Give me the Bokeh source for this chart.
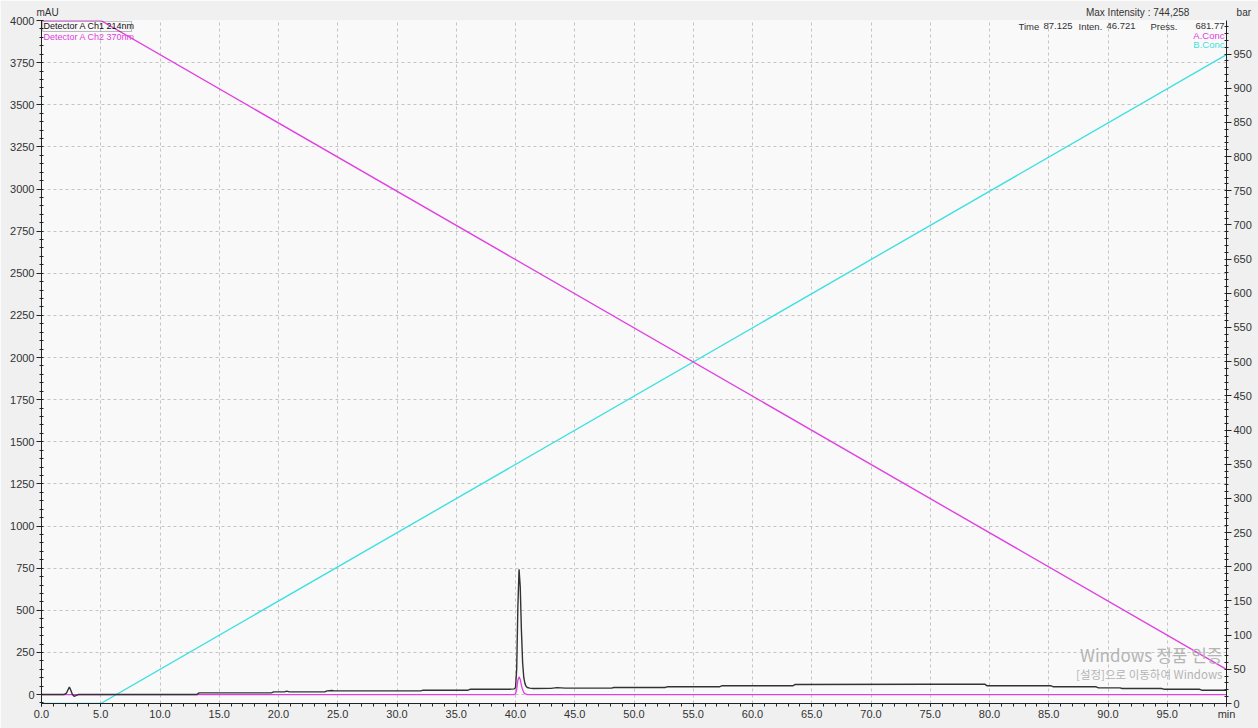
from bokeh.plotting import figure
from bokeh.models import (Range1d, LinearAxis, Label, SingleIntervalTicker, FixedTicker,
                          NumeralTickFormatter, BoxAnnotation)
from bokeh.embed import file_html
from bokeh.resources import INLINE

# --- Detector A Ch1 214nm (mAU) ---
ch1_time = [0.0, 1.9, 2.1, 2.25, 2.35, 2.45, 2.6, 2.75, 2.9, 3.1,
            13.1, 13.3, 19.4, 19.6, 20.5, 20.7, 20.9, 23.9, 24.1, 24.5,
            24.7, 32.0, 32.2, 36.0, 36.2, 39.6, 39.9, 40.0, 40.1, 40.2,
            40.3, 40.4, 40.5, 40.6, 40.7, 40.8, 40.9, 41.0, 41.2, 41.5,
            43.0, 43.5, 44.2, 48.1, 48.3, 52.6, 52.8, 57.2, 57.4, 63.4,
            63.6, 75.0, 79.6, 79.8, 85.2, 85.4, 89.0, 89.2, 91.0, 91.2,
            94.5, 94.7, 97.7, 97.9, 100.0]
ch1_mau = [0, 0, 8, 30, 44, 30, 2, -10, -6, 0,
           0, 10, 10, 16, 16, 20, 16, 16, 22, 24,
           22, 22, 26, 26, 32, 32, 34, 40, 150, 520,
           744, 640, 380, 190, 100, 65, 48, 42, 38, 36,
           37, 41, 38, 38, 42, 42, 46, 46, 52, 52,
           60, 61, 62, 52, 52, 46, 46, 40, 40, 36,
           36, 32, 32, 26, 26]

# --- Detector A Ch2 370nm (mAU) ---
ch2_time = [0.0, 39.9, 40.0, 40.1, 40.2, 40.3, 40.4, 40.5, 40.6, 40.7, 40.8, 41.0, 100.0]
ch2_mau = [0, 0, 5, 30, 85, 105, 90, 55, 28, 12, 5, 0, 0]

# --- pump gradient (%) ---
conc_time = [0.0, 5.0, 100.0]
conc_a = [100.0, 100.0, 5.0]
conc_b = [0.0, 0.0, 95.0]

MAGENTA = "#e040e0"
CYAN = "#40e0e0"
TXT = "#333333"
FONT = "Liberation Sans"

p = figure(width=1258, height=728, x_range=Range1d(0, 100), y_range=Range1d(-53, 4000),
           output_backend="svg", toolbar_location=None,
           min_border_left=41, min_border_right=32, min_border_top=20, min_border_bottom=25,
           background_fill_color="#f9f9f9", border_fill_color="#f0f0f0")
p.outline_line_color = None
p.extra_y_ranges = {"bar": Range1d(0, 999), "conc": Range1d(0, 100)}
# header strip above the frame, positioned in canvas pixels
p.extra_x_ranges = {"hdr": Range1d(41, 1226)}

# axes
p.xaxis.ticker = SingleIntervalTicker(interval=5, num_minor_ticks=5)
p.xaxis.formatter = NumeralTickFormatter(format="0.0")
p.xaxis.major_label_overrides = {100: "min"}
p.yaxis.ticker = SingleIntervalTicker(interval=250, num_minor_ticks=5)

right = LinearAxis(y_range_name="bar", ticker=SingleIntervalTicker(interval=50, num_minor_ticks=5))
p.add_layout(right, "right")

for ax in [p.xaxis[0], p.yaxis[0], right]:
    ax.axis_line_color = "#222222"
    ax.major_tick_line_color = "#222222"
    ax.minor_tick_line_color = "#222222"
    ax.major_tick_out = 5
    ax.major_tick_in = 0
    ax.minor_tick_out = 2
    ax.minor_tick_in = 2
    ax.major_label_text_font = FONT
    ax.major_label_text_font_size = "11px"
    ax.major_label_text_color = TXT
    ax.major_label_standoff = 2

p.xaxis.major_tick_out = 3
p.xaxis.minor_tick_out = 3
p.xaxis.minor_tick_in = 0
p.xaxis.major_label_standoff = 1

# header texts: units on the left, max intensity and pressure unit on the right
GAP = "\u00a0" * 17
header = LinearAxis(x_range_name="hdr", ticker=FixedTicker(ticks=[47, 1168], minor_ticks=[]),
                    major_label_overrides={47: "mAU", 1168: "Max Intensity : 744,258" + GAP + "bar"},
                    axis_line_color=None, major_tick_line_color=None, minor_tick_line_color=None,
                    major_tick_out=0, major_tick_in=0, major_label_standoff=3,
                    major_label_text_font=FONT, major_label_text_font_size="10px",
                    major_label_text_color=TXT)
p.add_layout(header, "above")

# dashed grid
p.xgrid.ticker = SingleIntervalTicker(interval=5)
for g in [p.xgrid[0], p.ygrid[0]]:
    g.grid_line_color = "#c4c4c4"
    g.grid_line_dash = "3 3"
    g.grid_line_width = 1

# gradient lines
p.line(conc_time, conc_b, y_range_name="conc", color=CYAN, line_width=1.4)
p.line(conc_time, conc_a, y_range_name="conc", color=MAGENTA, line_width=1.4)

# chromatograms
p.line(ch2_time, ch2_mau, color=MAGENTA, line_width=1.3)
p.line(ch1_time, ch1_mau, color="#333333", line_width=1.4)


def label(text, px, py, color=TXT, size="9.5px", align="left", font=FONT):
    # px/py: canvas pixels from the top-left corner
    p.add_layout(Label(x=px, y=py, x_units="canvas", y_units="canvas", text=text,
                       text_color=color, text_font_size=size, text_align=align,
                       text_baseline="middle", text_font=font))


# detector legend
p.add_layout(BoxAnnotation(left=0.1, right=7.6, bottom=3935, top=3995,
                           fill_alpha=0.0, line_color="#222222", line_width=1))
label("Detector A Ch1 214nm", 43, 25.5, color="#111111", size="9px")
label("Detector A Ch2 370nm", 43, 36, color=MAGENTA, size="9px")

# cursor readout
label("Time", 1018, 25.5)
label("87.125", 1043, 25.5)
label("Inten.", 1078, 25.5)
label("46.721", 1135, 25.5, align="right")
label("Press.", 1150, 25.5)
label("681.77", 1224, 25.5, align="right")
label("A.Conc", 1224, 35, color=MAGENTA, align="right")
label("B.Conc", 1224, 44, color=CYAN, align="right")

# system watermark
label("Windows 정품 인증", 1222, 654, color="#b4b4b4", size="17px",
      font="Noto Sans CJK KR", align="right")
label("[설정]으로 이동하여 Windows", 1222, 673, color="#b4b4b4", size="11.5px",
      font="Noto Sans CJK KR", align="right")

open("out.html", "w").write(file_html(p, INLINE))
